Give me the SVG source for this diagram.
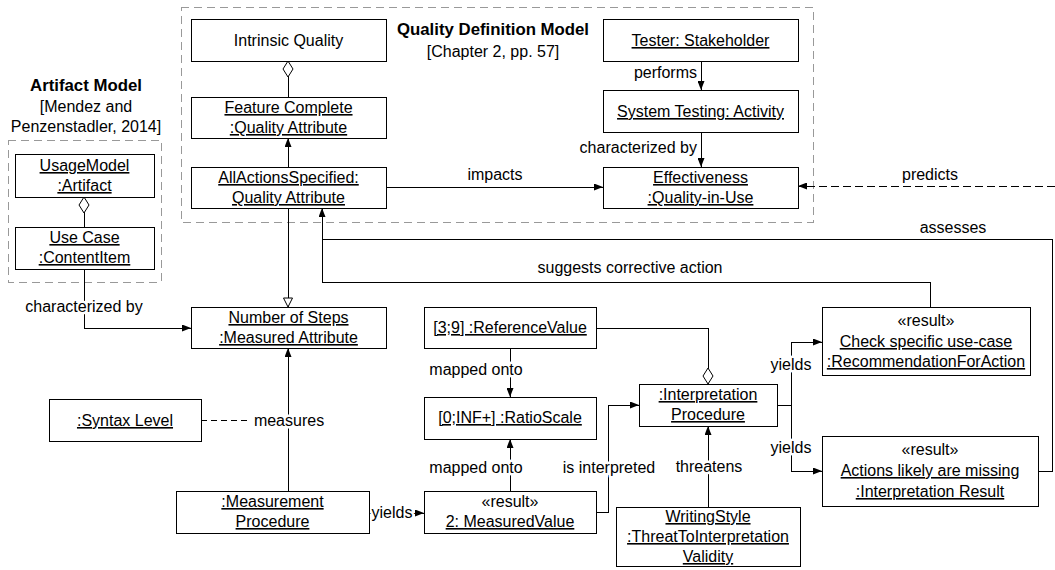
<svg xmlns="http://www.w3.org/2000/svg" width="1055" height="570" viewBox="0 0 1055 570">
  <style>
    text { font-family: "Liberation Sans", Arial, sans-serif; font-size: 16px; fill: #000; }
    .c { text-anchor: middle; }
    .r { text-anchor: end; }
    .u { text-decoration: underline; }
    .b { font-weight: bold; font-size: 16.8px; }
    .box { fill: #fff; stroke: #000; stroke-width: 1; shape-rendering: crispEdges; }
    .pkg { fill: none; stroke: #999; stroke-width: 1; stroke-dasharray: 8 5; shape-rendering: crispEdges; }
    .edge { fill: none; stroke: #000; stroke-width: 1; shape-rendering: crispEdges; }
    .dash { stroke-dasharray: 8 4; }
    .dash2 { stroke-dasharray: 6 4; }
    .lbl { paint-order: stroke; stroke: #fff; stroke-width: 5px; stroke-linejoin: round; }
  </style>
  <defs>
    <marker id="arrow" viewBox="0 0 9 7" refX="9" refY="3.5" markerWidth="9" markerHeight="7" markerUnits="userSpaceOnUse" orient="auto">
      <path d="M0,0 L9,3.5 L0,7 z" fill="#000"/>
    </marker>
    <marker id="triangle" viewBox="0 0 11 11" refX="10" refY="5.5" markerWidth="11" markerHeight="11" markerUnits="userSpaceOnUse" orient="auto">
      <path d="M1,1 L10,5.5 L1,10 z" fill="#fff" stroke="#000" stroke-width="1"/>
    </marker>
    <marker id="diamondStart" viewBox="0 0 18 12" refX="1" refY="6" markerWidth="18" markerHeight="12" markerUnits="userSpaceOnUse" orient="auto">
      <path d="M1,6 L9,1 L17,6 L9,11 z" fill="#fff" stroke="#000" stroke-width="1"/>
    </marker>
    <marker id="diamondEnd" viewBox="0 0 18 12" refX="17" refY="6" markerWidth="18" markerHeight="12" markerUnits="userSpaceOnUse" orient="auto">
      <path d="M1,6 L9,1 L17,6 L9,11 z" fill="#fff" stroke="#000" stroke-width="1"/>
    </marker>
  </defs>

  <!-- package frames -->
  <g id="pkg-quality-definition">
    <rect class="pkg" x="181" y="7" width="632" height="215"/>
    <text class="c b" x="493" y="35">Quality Definition Model</text>
    <text class="c" x="493" y="57">[Chapter 2, pp. 57]</text>
  </g>
  <g id="pkg-artifact">
    <rect class="pkg" x="8" y="140" width="153" height="142"/>
    <text class="c b" x="86" y="91">Artifact Model</text>
    <text class="c" x="86" y="112">[Mendez and</text>
    <text class="c" x="86" y="132">Penzenstadler, 2014]</text>
  </g>

  <!-- connectors -->
  <g id="connectors">
    <path class="edge" d="M288,61 V97" marker-start="url(#diamondStart)"/>
    <path class="edge" d="M288,167 V138" marker-end="url(#arrow)"/>
    <path class="edge" d="M288,208 V307" marker-end="url(#triangle)"/>
    <path class="edge" d="M701,61 V90" marker-end="url(#arrow)"/>
    <path class="edge" d="M701,132 V167" marker-end="url(#arrow)"/>
    <path class="edge" d="M386,187 H603" marker-end="url(#arrow)"/>
    <path class="edge dash" d="M1055,186 H798" marker-end="url(#arrow)"/>
    <path class="edge" d="M84,197 V227" marker-start="url(#diamondStart)"/>
    <path class="edge" d="M84,269 V328 H191" marker-end="url(#arrow)"/>
    <path class="edge" d="M288,491 V348" marker-end="url(#arrow)"/>
    <path class="edge dash2" d="M201,420 H248"/>
    <path class="edge" d="M369,513 H424" marker-end="url(#arrow)"/>
    <path class="edge" d="M510,348 V397" marker-end="url(#arrow)"/>
    <path class="edge" d="M510,491 V439" marker-end="url(#arrow)"/>
    <path class="edge" d="M596,512 H608 V405 H639" marker-end="url(#arrow)"/>
    <path class="edge" d="M596,328 H708 V384" marker-end="url(#diamondEnd)"/>
    <path class="edge" d="M708,507 V426" marker-end="url(#arrow)"/>
    <path class="edge" d="M777,405 H791 V342 H822" marker-end="url(#arrow)"/>
    <path class="edge" d="M791,405 V471 H822" marker-end="url(#arrow)"/>
    <path class="edge" d="M930,307 V282 H322 V208" marker-end="url(#arrow)"/>
    <path class="edge" d="M1038,471 H1052 V239 H322 V220"/>

    <text class="r" x="697" y="78">performs</text>
    <text class="r" x="697" y="153">characterized by</text>
    <text class="c" x="495" y="180">impacts</text>
    <text class="c" x="930" y="180">predicts</text>
    <text class="c" x="953" y="233">assesses</text>
    <text class="c" x="630" y="273">suggests corrective action</text>
    <text class="c lbl" x="84" y="312">characterized by</text>
    <text class="c lbl" x="289" y="426">measures</text>
    <text class="c lbl" x="392" y="518">yields</text>
    <text class="c lbl" x="476" y="375">mapped onto</text>
    <text class="c lbl" x="476" y="473">mapped onto</text>
    <text class="c lbl" x="609" y="473">is interpreted</text>
    <text class="c lbl" x="709" y="472">threatens</text>
    <text class="c lbl" x="791" y="370">yields</text>
    <text class="c lbl" x="791" y="453">yields</text>
  </g>

  <!-- nodes -->
  <g id="intrinsic-quality">
    <rect class="box" x="191" y="19" width="195" height="42"/>
    <text class="c" x="288.5" y="46">Intrinsic Quality</text>
  </g>
  <g id="feature-complete">
    <rect class="box" x="191" y="97" width="195" height="41"/>
    <text class="c u" x="288.5" y="113">Feature Complete</text>
    <text class="c u" x="288.5" y="133">:Quality Attribute</text>
  </g>
  <g id="all-actions-specified">
    <rect class="box" x="191" y="167" width="195" height="41"/>
    <text class="c u" x="288.5" y="183">AllActionsSpecified:</text>
    <text class="c u" x="288.5" y="203">Quality Attribute</text>
  </g>
  <g id="tester">
    <rect class="box" x="603" y="19" width="195" height="42"/>
    <text class="c u" x="700.5" y="46">Tester: Stakeholder</text>
  </g>
  <g id="system-testing">
    <rect class="box" x="603" y="90" width="195" height="42"/>
    <text class="c u" x="700.5" y="117">System Testing: Activity</text>
  </g>
  <g id="effectiveness">
    <rect class="box" x="603" y="167" width="195" height="41"/>
    <text class="c u" x="700.5" y="183">Effectiveness</text>
    <text class="c u" x="700.5" y="203">:Quality-in-Use</text>
  </g>
  <g id="usage-model">
    <rect class="box" x="15" y="154" width="139" height="43"/>
    <text class="c u" x="84.5" y="171">UsageModel</text>
    <text class="c u" x="84.5" y="191">:Artifact</text>
  </g>
  <g id="use-case">
    <rect class="box" x="15" y="227" width="139" height="42"/>
    <text class="c u" x="84.5" y="243">Use Case</text>
    <text class="c u" x="84.5" y="263">:ContentItem</text>
  </g>
  <g id="number-of-steps">
    <rect class="box" x="191" y="307" width="195" height="41"/>
    <text class="c u" x="288.5" y="323">Number of Steps</text>
    <text class="c u" x="288.5" y="343">:Measured Attribute</text>
  </g>
  <g id="syntax-level">
    <rect class="box" x="49" y="399" width="152" height="42"/>
    <text class="c u" x="125" y="426">:Syntax Level</text>
  </g>
  <g id="measurement-procedure">
    <rect class="box" x="176" y="491" width="193" height="42"/>
    <text class="c u" x="272.5" y="507">:Measurement</text>
    <text class="c u" x="272.5" y="527">Procedure</text>
  </g>
  <g id="reference-value">
    <rect class="box" x="424" y="307" width="172" height="41"/>
    <text class="c u" x="510" y="333">[3;9] :ReferenceValue</text>
  </g>
  <g id="ratio-scale">
    <rect class="box" x="424" y="397" width="172" height="42"/>
    <text class="c u" x="510" y="423">[0;INF+] :RatioScale</text>
  </g>
  <g id="measured-value">
    <rect class="box" x="424" y="491" width="172" height="42"/>
    <text class="c" x="510" y="507">«result»</text>
    <text class="c u" x="510" y="527">2: MeasuredValue</text>
  </g>
  <g id="interpretation-procedure">
    <rect class="box" x="639" y="384" width="138" height="42"/>
    <text class="c u" x="708" y="400">:Interpretation</text>
    <text class="c u" x="708" y="420">Procedure</text>
  </g>
  <g id="writing-style">
    <rect class="box" x="616" y="507" width="184" height="59"/>
    <text class="c u" x="708" y="522">WritingStyle</text>
    <text class="c u" x="708" y="542">:ThreatToInterpretation</text>
    <text class="c u" x="708" y="562">Validity</text>
  </g>
  <g id="check-use-case">
    <rect class="box" x="822" y="307" width="208" height="68"/>
    <text class="c" x="926" y="326">«result»</text>
    <text class="c u" x="926" y="347">Check specific use-case</text>
    <text class="c u" x="926" y="367">:RecommendationForAction</text>
  </g>
  <g id="actions-missing">
    <rect class="box" x="822" y="436" width="216" height="70"/>
    <text class="c" x="930" y="455">«result»</text>
    <text class="c u" x="930" y="476">Actions likely are missing</text>
    <text class="c u" x="930" y="497">:Interpretation Result</text>
  </g>
</svg>
